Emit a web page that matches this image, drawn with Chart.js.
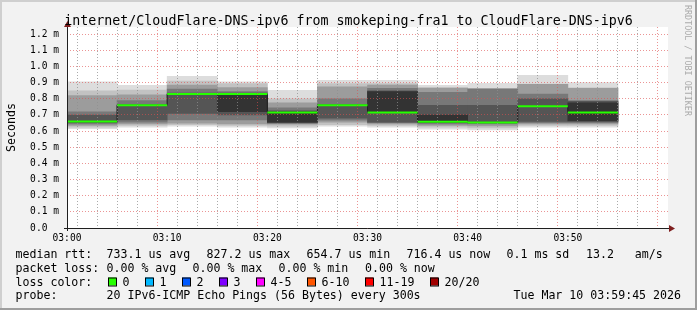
<!DOCTYPE html>
<html>
<head>
<meta charset="utf-8">
<script src="https://cdn.jsdelivr.net/npm/chart.js@4.4.1/dist/chart.umd.min.js"></script>
<style>
  html, body { margin: 0; padding: 0; background: #f2f2f2; }
  #wrap { width: 697px; height: 310px; }
</style>
</head>
<body>
<div id="wrap"><canvas id="rrd" width="697" height="310"></canvas></div>
<script>
// Time axis: minutes after 03:00, one smoke bin every 5 minutes
const binStartMin = [0, 5, 10, 15, 20, 25, 30, 35, 40, 45, 50];
const binLength = 5;
const xTickLabels = ['03:00', '03:10', '03:20', '03:30', '03:40', '03:50'];

// Median RTT per bin (milliseconds)
const medianMs = [0.660, 0.760, 0.830, 0.830, 0.716, 0.760, 0.716, 0.658, 0.654, 0.754, 0.716];

// Smoke bands, outermost first: [low, high] in ms, null = band not visible
const smoke1 = [[0.615, 0.905], [0.625, 0.883], [0.630, 0.940], [0.625, 0.905], [0.620, 0.853], [0.630, 0.914],
                [0.625, 0.914], [0.612, 0.883], [0.608, 0.896], [0.625, 0.946], [0.625, 0.900]];
const smoke2 = [[0.625, 0.850], [0.635, 0.855], [0.640, 0.910], [0.635, 0.895], [0.630, 0.800], [0.640, 0.895],
                [0.635, 0.895], [0.625, 0.872], [0.620, 0.865], [0.635, 0.892], [0.635, 0.868]];
const smoke3 = [[0.635, 0.820], [0.645, 0.825], [0.650, 0.885], [0.645, 0.870], [0.643, 0.775], [0.655, 0.875],
                [0.645, 0.885], [0.635, 0.865], [0.632, 0.862], [0.645, 0.890], [0.645, 0.865]];
const smoke4 = [[0.645, 0.720], [0.655, 0.790], [0.670, 0.860], [0.670, 0.845], [0.648, 0.745], [0.668, 0.800],
                [0.652, 0.865], [0.645, 0.840], [0.645, 0.860], [0.652, 0.830], [0.652, 0.790]];
const smoke5 = [[0.652, 0.700], [0.670, 0.765], [0.710, 0.835], [0.700, 0.835], [0.652, 0.725], [0.680, 0.765],
                [0.655, 0.850], [0.652, 0.760], [0.650, 0.760], [0.660, 0.800], [0.658, 0.785]];
const smoke6 = [null, null, null, [0.720, 0.828], [0.655, 0.718], null,
                [0.720, 0.845], [0.655, 0.700], null, null, [0.665, 0.775]];
const smokeShades = ['#dddddd', '#c2c2c2', '#9c9c9c', '#787878', '#555555', '#333333'];

// Legend
const lossLabels = ['0', '1', '2', '3', '4-5', '6-10', '11-19', '20/20'];
const lossColors = ['#26ff00', '#00b8ff', '#0059ff', '#7e00ff', '#ff00ff', '#ff5500', '#ff0000', '#a10000'];
const rttLegend = ['733.1 us avg', '827.2 us max', '654.7 us min', '716.4 us now', '0.1 ms sd', '13.2   am/s'];
const lossLegend = ['0.00 % avg', '0.00 % max', '0.00 % min', '0.00 % now'];

const TITLE = 'internet/CloudFlare-DNS-ipv6 from smokeping-fra1 to CloudFlare-DNS-ipv6';
const GRID = 'rgba(143, 143, 143, 0.75)';
const MGRID = 'rgba(222, 79, 79, 0.6)';
const MONO = '"DejaVu Sans Mono", monospace';

const smokeLayers = [smoke1, smoke2, smoke3, smoke4, smoke5, smoke6];
const smokeDatasets = smokeLayers.map((layer, i) => ({
    type: 'bar',
    data: layer
        .map((band, j) => band && { x: binStartMin[j] + binLength / 2, y: band })
        .filter(Boolean),
    backgroundColor: smokeShades[i],
    borderWidth: 0,
    grouped: false,
    barPercentage: 1,
    categoryPercentage: 1,
    order: 20 - i
}));

// median line: thin dark stepped line, green 0%-loss segments on top
const medianStep = binStartMin.map((s, i) => ({ x: s, y: medianMs[i] }));
medianStep.push({ x: binStartMin[binStartMin.length - 1] + binLength, y: medianMs[medianMs.length - 1] });

const medianGreen = [];
binStartMin.forEach((s, i) => {
    medianGreen.push({ x: s, y: medianMs[i] }, { x: s + binLength, y: medianMs[i] }, { x: s + binLength, y: null });
});

const rrdFrame = {
    id: 'rrdFrame',
    beforeDraw(chart) {
        const { ctx, chartArea: a, width, height } = chart;
        ctx.save();
        ctx.fillStyle = '#f2f2f2';
        ctx.fillRect(0, 0, width, height);
        ctx.fillStyle = '#cfcfcf';
        ctx.fillRect(0, 0, width, 2);
        ctx.fillRect(0, 0, 2, height);
        ctx.fillStyle = '#9e9e9e';
        ctx.fillRect(0, height - 2, width, 2);
        ctx.fillRect(width - 2, 0, 2, height);
        ctx.fillStyle = '#ffffff';
        ctx.fillRect(a.left, a.top, a.right - a.left, a.bottom - a.top);
        ctx.restore();
    },
    afterDraw(chart) {
        const { ctx, chartArea: a, width } = chart;
        ctx.save();

        // axes
        ctx.strokeStyle = '#1f1f1f';
        ctx.lineWidth = 1;
        ctx.beginPath();
        ctx.moveTo(a.left - 3, a.bottom + 0.5);
        ctx.lineTo(a.right + 3, a.bottom + 0.5);
        ctx.moveTo(a.left + 0.5, a.bottom + 3);
        ctx.lineTo(a.left + 0.5, a.top - 3);
        ctx.stroke();

        ctx.fillStyle = '#7f1f1f';
        ctx.beginPath();
        ctx.moveTo(a.right + 1, a.bottom - 3);
        ctx.lineTo(a.right + 7, a.bottom + 0.5);
        ctx.lineTo(a.right + 1, a.bottom + 4);
        ctx.closePath();
        ctx.fill();
        ctx.beginPath();
        ctx.moveTo(a.left - 3, a.top);
        ctx.lineTo(a.left + 0.5, a.top - 6);
        ctx.lineTo(a.left + 4, a.top);
        ctx.closePath();
        ctx.fill();

        // title
        ctx.fillStyle = '#000';
        ctx.textBaseline = 'alphabetic';
        ctx.textAlign = 'center';
        ctx.font = '13.3px ' + MONO;
        ctx.fillText(TITLE, width / 2, 24.5);

        // vertical label
        ctx.font = '11.6px ' + MONO;
        ctx.save();
        ctx.translate(15, 127.5);
        ctx.rotate(-Math.PI / 2);
        ctx.textAlign = 'center';
        ctx.fillText('Seconds', 0, 0);
        ctx.restore();

        // watermark
        ctx.save();
        ctx.fillStyle = '#ababab';
        ctx.font = '8.4px ' + MONO;
        ctx.translate(685, 5);
        ctx.rotate(Math.PI / 2);
        ctx.textAlign = 'left';
        ctx.fillText('RRDTOOL / TOBI OETIKER', 0, 0);
        ctx.restore();

        // legend
        ctx.textAlign = 'left';
        ctx.font = '11.6px ' + MONO;
        const rows = [258.3, 272, 285.7, 299.4];
        ctx.fillText('median rtt:', 15.5, rows[0]);
        const rttX = [106.5, 206.5, 306.5, 406.5, 506.5, 586];
        rttLegend.forEach((t, i) => ctx.fillText(t, rttX[i], rows[0]));

        ctx.fillText('packet loss:', 15.5, rows[1]);
        const lossX = [106.5, 192.5, 278.5, 365];
        lossLegend.forEach((t, i) => ctx.fillText(t, lossX[i], rows[1]));

        ctx.fillText('loss color:', 15.5, rows[2]);
        const boxX = [108, 145, 182, 219, 256, 307, 365, 430];
        lossLabels.forEach((t, i) => {
            ctx.fillStyle = lossColors[i];
            ctx.fillRect(boxX[i], 277.5, 8, 8);
            ctx.strokeStyle = '#000';
            ctx.strokeRect(boxX[i] + 0.5, 278, 8, 8);
            ctx.fillStyle = '#000';
            ctx.fillText(t, boxX[i] + 14.5, rows[2]);
        });

        ctx.fillText('probe:', 15.5, rows[3]);
        ctx.fillText('20 IPv6-ICMP Echo Pings (56 Bytes) every 300s', 106.5, rows[3]);
        ctx.textAlign = 'right';
        ctx.fillText('Tue Mar 10 03:59:45 2026', 681, rows[3]);
        ctx.restore();
    }
};

new Chart(document.getElementById('rrd').getContext('2d'), {
    type: 'bar',
    data: {
        datasets: [
            {
                type: 'line',
                data: medianGreen,
                borderColor: '#26ff00',
                borderWidth: 2,
                pointRadius: 0,
                spanGaps: false,
                order: 0
            },
            {
                type: 'line',
                data: medianStep,
                borderColor: '#202020',
                borderWidth: 1,
                pointRadius: 0,
                stepped: true,
                order: 1
            },
            ...smokeDatasets
        ]
    },
    options: {
        responsive: false,
        devicePixelRatio: 1,
        animation: false,
        layout: { padding: { left: 0, top: 27, right: 29, bottom: 0 } },
        plugins: {
            legend: { display: false },
            tooltip: { enabled: false }
        },
        scales: {
            x: {
                type: 'linear',
                min: 0,
                max: 60,
                offset: false,
                afterFit: scale => { scale.height = 82; },
                grid: { display: false },
                border: { display: false },
                ticks: {
                    stepSize: 5,
                    autoSkip: false,
                    maxRotation: 0,
                    padding: -2,
                    color: '#000',
                    font: { family: MONO, size: 9.6, lineHeight: 1 },
                    callback: v => (v % 10 === 0 && xTickLabels[v / 10]) || ''
                }
            },
            xg: {
                type: 'linear',
                position: 'bottom',
                min: 0,
                max: 60,
                offset: false,
                afterFit: scale => { scale.height = 0; },
                ticks: { display: false, stepSize: 2 },
                grid: {
                    drawTicks: false,
                    z: 1,
                    color: c => (c.tick && c.tick.value % 10 === 0) ? MGRID : GRID
                },
                border: { display: false, dash: [1, 2] }
            },
            y: {
                min: 0,
                max: 1.245,
                afterFit: scale => { scale.width = 67; },
                grid: { color: MGRID, drawTicks: false, z: 1 },
                border: { display: false, dash: [1, 2] },
                ticks: {
                    stepSize: 0.1,
                    includeBounds: false,
                    padding: 8,
                    color: '#000',
                    font: { family: MONO, size: 9.6 },
                    callback: v => Math.abs(v) < 1e-9 ? '0.0  ' : v.toFixed(1) + ' m'
                }
            }
        }
    },
    plugins: [rrdFrame]
});
</script>
</body>
</html>
